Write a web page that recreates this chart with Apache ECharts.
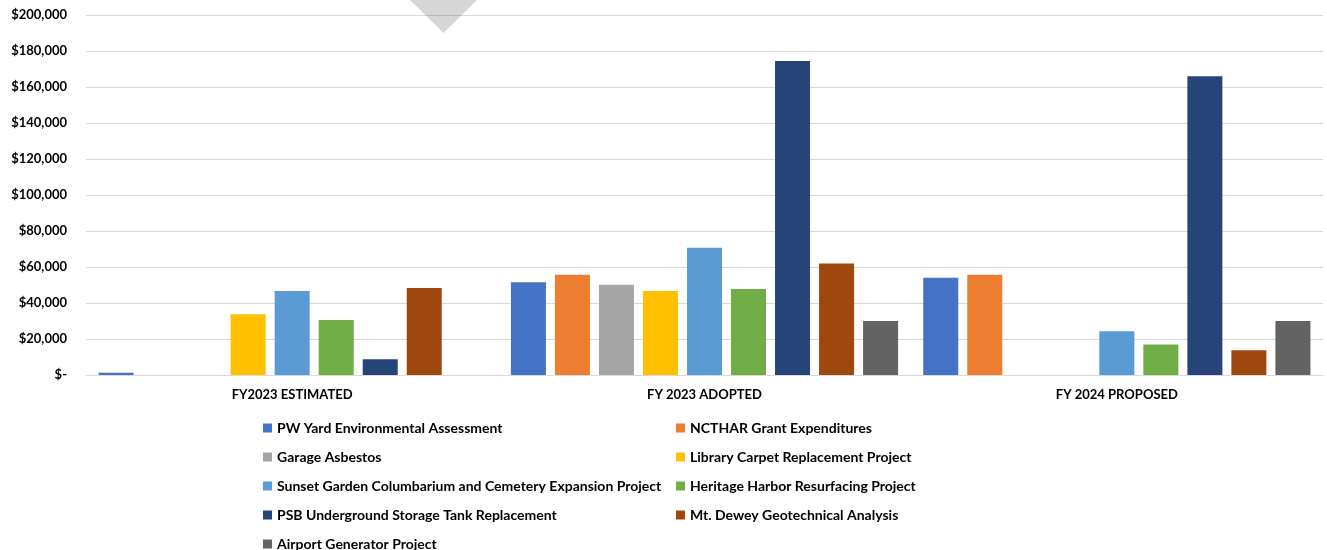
<!DOCTYPE html>
<html>
<head>
<meta charset="utf-8">
<script src="https://cdn.jsdelivr.net/npm/echarts@6/dist/echarts.min.js"></script>
<style>
html,body{margin:0;padding:0;background:#fff;}
#chart{width:1327px;height:550px;}
</style>
</head>
<body>
<div id="chart"></div>
<script>
const categories = ['FY2023 ESTIMATED', 'FY 2023 ADOPTED', 'FY 2024 PROPOSED'];
const seriesNames = [
  'PW Yard Environmental Assessment',
  'NCTHAR Grant Expenditures',
  'Garage Asbestos',
  'Library Carpet Replacement Project',
  'Sunset Garden Columbarium and Cemetery Expansion Project',
  'Heritage Harbor Resurfacing Project',
  'PSB Underground Storage Tank Replacement',
  'Mt. Dewey Geotechnical Analysis',
  'Airport Generator Project'
];
const pwYard    = [1200, 51500, 54000];
const ncthar    = [0, 55700, 55700];
const garage    = [0, 50200, 0];
const library   = [33800, 46700, 0];
const sunset    = [46700, 70700, 24300];
const heritage  = [30500, 47800, 17000];
const psb       = [8700, 174500, 166000];
const mtDewey   = [48300, 62000, 13700];
const airport   = [0, 30000, 30000];
const seriesValues = [pwYard, ncthar, garage, library, sunset, heritage, psb, mtDewey, airport];
const colors = ['#4472C4', '#ED7D31', '#A5A5A5', '#FFC000', '#5B9BD5', '#70AD47', '#264478', '#9E480E', '#636363'];

const yMin = 0, yMax = 200000, yInterval = 20000;

const chart = echarts.init(document.getElementById('chart'), null, {renderer: 'canvas'});
const font = 'Lato, "Open Sans", sans-serif';

const legendText = {fontFamily: font, fontWeight: 'bold', fontSize: 14, color: '#000', lineHeight: 14};
const legendBase = {
  orient: 'vertical', padding: 0,
  itemWidth: 9, itemHeight: 9, itemGap: 15, icon: 'rect',
  textStyle: legendText
};
chart.setOption({
  animation: false,
  color: colors,
  grid: {left: 86, right: 4, top: 15, bottom: 175, containLabel: false},
  xAxis: {
    type: 'category',
    data: categories,
    axisLine: {lineStyle: {color: '#d9d9d9', width: 1}},
    axisTick: {show: false},
    axisLabel: {fontFamily: font, fontWeight: 'bold', fontSize: 13, color: '#000', margin: 13}
  },
  yAxis: {
    type: 'value',
    min: yMin, max: yMax, interval: yInterval,
    axisLine: {show: false},
    axisTick: {show: false},
    splitLine: {lineStyle: {color: '#d9d9d9', width: 1}},
    axisLabel: {
      fontFamily: font, fontWeight: 'bold', fontSize: 13, color: '#000', margin: 19,
      formatter: v => v === 0 ? '$-' : '$' + v.toLocaleString('en-US')
    }
  },
  legend: [
    Object.assign({left: 263, top: 421,
      data: [seriesNames[0], seriesNames[2], seriesNames[4], seriesNames[6]]}, legendBase),
    Object.assign({left: 263, top: 537,
      data: [seriesNames[8]]}, legendBase),
    Object.assign({left: 676, top: 421,
      data: [seriesNames[1], seriesNames[3], seriesNames[5], seriesNames[7]]}, legendBase)
  ],
  series: seriesNames.map((name, i) => ({
    name: name,
    type: 'bar',
    data: seriesValues[i],
    barGap: '25.7%',
    barCategoryGap: '6.1%',
    itemStyle: {color: colors[i]}
  })),
  graphic: [{
    type: 'polygon',
    shape: {points: [[410, 0], [477, 0], [443.5, 33]]},
    style: {fill: 'rgba(0,0,0,0.16)'},
    z: 100
  }]
});
</script>
</body>
</html>
